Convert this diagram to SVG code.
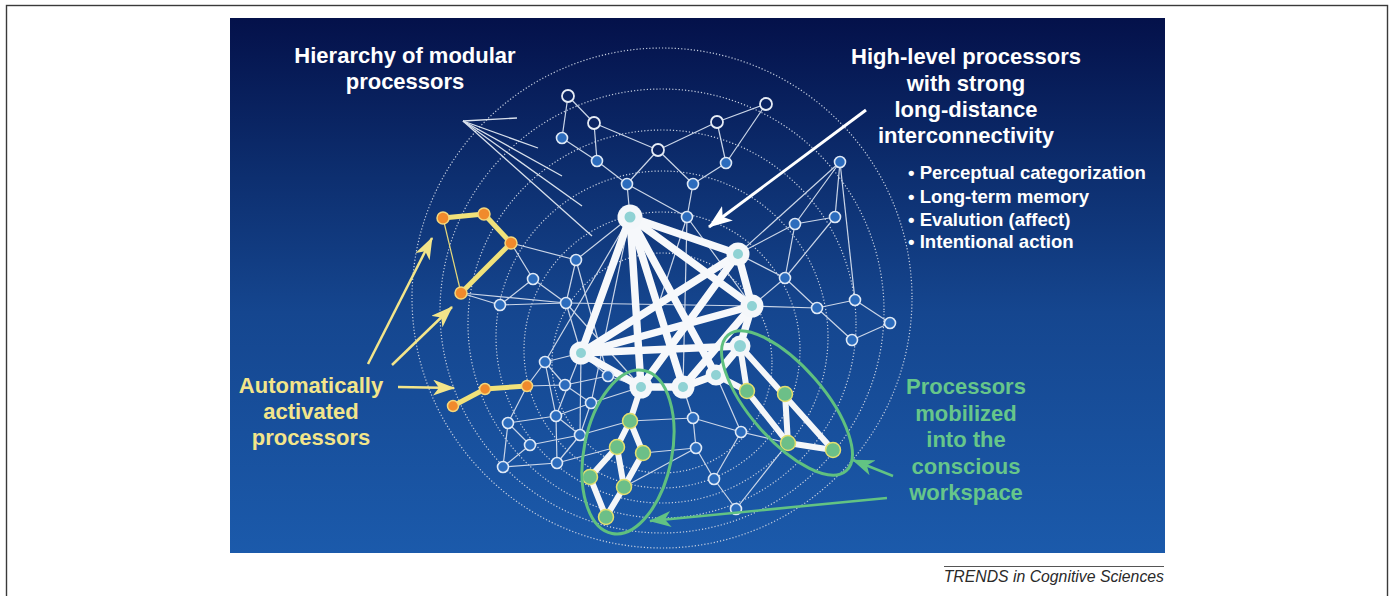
<svg xmlns="http://www.w3.org/2000/svg" width="1392" height="596" viewBox="0 0 1392 596">
<defs>
<linearGradient id="bg" x1="0" y1="0" x2="0" y2="1">
<stop offset="0" stop-color="#04114a"/>
<stop offset="0.3" stop-color="#0d2f70"/>
<stop offset="0.55" stop-color="#15468f"/>
<stop offset="1" stop-color="#1b5aab"/>
</linearGradient>
<marker id="mY" viewBox="0 0 22 16" refX="21" refY="8" markerWidth="22" markerHeight="16" markerUnits="userSpaceOnUse" orient="auto"><path d="M0,0 L22,8 L0,16 L6,8 Z" fill="#f3e58a"/></marker>
<marker id="mG" viewBox="0 0 22 16" refX="21" refY="8" markerWidth="22" markerHeight="16" markerUnits="userSpaceOnUse" orient="auto"><path d="M0,0 L22,8 L0,16 L6,8 Z" fill="#62c383"/></marker>
<marker id="mW" viewBox="0 0 24 18" refX="23" refY="9" markerWidth="24" markerHeight="18" markerUnits="userSpaceOnUse" orient="auto"><path d="M0,0 L24,9 L0,18 L6,9 Z" fill="#ffffff"/></marker>
<style>
.ring{fill:none;stroke:#c6cfe0;stroke-width:1.2;stroke-dasharray:1.2 2}
.thin{stroke:#cbd6e8;stroke-width:1.2}
.thick{stroke:#f6f8fb;stroke-width:7.5;stroke-linecap:round}
.gthick{stroke:#f4f6f8;stroke-width:6;stroke-linecap:round}
.ythick{stroke:#f1e27a;stroke-width:5}
.ythin{stroke:#e6d97a;stroke-width:1.2}
.blue{fill:#2c6cbd;stroke:#dfe9f6;stroke-width:1.6}
.hollow{fill:#0b2462;stroke:#e6ecf5;stroke-width:1.8}
.tealo{fill:#f4f7fa}
.teali{fill:#8fd2d4}
.green{fill:#6cbf88;stroke:#e3df6e;stroke-width:1.5}
.orange{fill:#f08a2c;stroke:#f4d67a;stroke-width:1.5}
.ell{fill:none;stroke:#5fc07f;stroke-width:3}
.wt{font-family:"Liberation Sans",Arial,Helvetica,sans-serif;font-weight:bold;fill:#ffffff}
.yt{font-family:"Liberation Sans",Arial,Helvetica,sans-serif;font-weight:bold;fill:#f3e58a;font-size:22px;text-anchor:middle}
.gt{font-family:"Liberation Sans",Arial,Helvetica,sans-serif;font-weight:bold;fill:#66c68a;font-size:22px;text-anchor:middle}
</style>
</defs>
<rect x="0" y="0" width="1392" height="596" fill="#ffffff"/>
<rect x="6.5" y="5.5" width="1381" height="620" fill="none" stroke="#3a3a3a" stroke-width="1.4"/>
<rect x="230" y="18" width="935" height="535" fill="url(#bg)"/>

<g id="rings">
<circle class="ring" cx="662" cy="298" r="250"/>
<circle class="ring" cx="662" cy="311" r="222"/>
<circle class="ring" cx="662" cy="324" r="194"/>
<circle class="ring" cx="662" cy="337" r="166"/>
<circle class="ring" cx="662" cy="350" r="138"/>
<circle class="ring" cx="662" cy="363" r="110"/>
</g>

<g id="connectors">
<g stroke="#d8e0ec" stroke-width="1.3">
<line x1="463" y1="121" x2="517" y2="118"/>
<line x1="463" y1="121" x2="538" y2="148"/>
<line x1="463" y1="121" x2="562" y2="176"/>
<line x1="463" y1="121" x2="582" y2="206"/>
<line x1="463" y1="121" x2="592" y2="236"/>
</g>
<g class="thin">
<line x1="568" y1="96" x2="594" y2="123"/>
<line x1="568" y1="96" x2="562" y2="138"/>
<line x1="594" y1="123" x2="597" y2="161"/>
<line x1="594" y1="123" x2="658" y2="150"/>
<line x1="562" y1="138" x2="597" y2="161"/>
<line x1="597" y1="161" x2="627" y2="184"/>
<line x1="658" y1="150" x2="627" y2="184"/>
<line x1="658" y1="150" x2="693" y2="184"/>
<line x1="658" y1="150" x2="717" y2="122"/>
<line x1="717" y1="122" x2="766" y2="104"/>
<line x1="717" y1="122" x2="726" y2="163"/>
<line x1="766" y1="104" x2="726" y2="163"/>
<line x1="726" y1="163" x2="693" y2="184"/>
<line x1="627" y1="184" x2="630" y2="217"/>
<line x1="627" y1="184" x2="687" y2="217"/>
<line x1="693" y1="184" x2="687" y2="217"/>
<line x1="687" y1="217" x2="683" y2="387"/>
<line x1="687" y1="217" x2="752" y2="306"/>
<line x1="687" y1="217" x2="660" y2="300"/>
<line x1="840" y1="162" x2="795" y2="224"/>
<line x1="840" y1="162" x2="835" y2="217"/>
<line x1="840" y1="162" x2="738" y2="254"/>
<line x1="840" y1="162" x2="855" y2="300"/>
<line x1="795" y1="224" x2="835" y2="217"/>
<line x1="795" y1="224" x2="738" y2="254"/>
<line x1="795" y1="224" x2="785" y2="278"/>
<line x1="835" y1="217" x2="785" y2="278"/>
<line x1="738" y1="254" x2="785" y2="278"/>
<line x1="785" y1="278" x2="752" y2="306"/>
<line x1="785" y1="278" x2="817" y2="308"/>
<line x1="752" y1="306" x2="817" y2="308"/>
<line x1="817" y1="308" x2="855" y2="300"/>
<line x1="855" y1="300" x2="890" y2="323"/>
<line x1="890" y1="323" x2="852" y2="340"/>
<line x1="817" y1="308" x2="852" y2="340"/>
<line x1="461" y1="293" x2="500" y2="305"/>
<line x1="461" y1="293" x2="566" y2="303"/>
<line x1="511" y1="243" x2="576" y2="260"/>
<line x1="511" y1="243" x2="533" y2="279"/>
<line x1="533" y1="279" x2="500" y2="305"/>
<line x1="533" y1="279" x2="566" y2="303"/>
<line x1="576" y1="260" x2="566" y2="303"/>
<line x1="500" y1="305" x2="566" y2="303"/>
<line x1="576" y1="260" x2="630" y2="217"/>
<line x1="576" y1="260" x2="608" y2="376"/>
<line x1="566" y1="303" x2="581" y2="353"/>
<line x1="566" y1="303" x2="752" y2="306"/>
<line x1="566" y1="303" x2="641" y2="387"/>
<line x1="545" y1="362" x2="581" y2="353"/>
<line x1="545" y1="362" x2="527" y2="386"/>
<line x1="545" y1="362" x2="565" y2="385"/>
<line x1="545" y1="362" x2="556" y2="416"/>
<line x1="527" y1="386" x2="565" y2="385"/>
<line x1="527" y1="386" x2="508" y2="423"/>
<line x1="565" y1="385" x2="608" y2="376"/>
<line x1="565" y1="385" x2="591" y2="403"/>
<line x1="608" y1="376" x2="641" y2="387"/>
<line x1="608" y1="376" x2="581" y2="353"/>
<line x1="591" y1="403" x2="556" y2="416"/>
<line x1="591" y1="403" x2="641" y2="387"/>
<line x1="591" y1="403" x2="580" y2="435"/>
<line x1="556" y1="416" x2="508" y2="423"/>
<line x1="556" y1="416" x2="580" y2="435"/>
<line x1="556" y1="416" x2="557" y2="463"/>
<line x1="508" y1="423" x2="530" y2="445"/>
<line x1="508" y1="423" x2="503" y2="467"/>
<line x1="580" y1="435" x2="530" y2="445"/>
<line x1="530" y1="445" x2="503" y2="467"/>
<line x1="503" y1="467" x2="557" y2="463"/>
<line x1="557" y1="463" x2="580" y2="435"/>
<line x1="557" y1="463" x2="617" y2="447"/>
<line x1="580" y1="435" x2="630" y2="421"/>
<line x1="581" y1="353" x2="556" y2="416"/>
<line x1="581" y1="353" x2="580" y2="435"/>
<line x1="630" y1="217" x2="545" y2="362"/>
<line x1="630" y1="217" x2="591" y2="403"/>
<line x1="693" y1="418" x2="741" y2="432"/>
<line x1="693" y1="418" x2="696" y2="448"/>
<line x1="696" y1="448" x2="714" y2="479"/>
<line x1="714" y1="479" x2="736" y2="509"/>
<line x1="741" y1="432" x2="714" y2="479"/>
<line x1="736" y1="509" x2="788" y2="443"/>
<line x1="741" y1="432" x2="788" y2="443"/>
<line x1="693" y1="418" x2="683" y2="387"/>
<line x1="741" y1="432" x2="716" y2="375"/>
<line x1="643" y1="453" x2="696" y2="448"/>
<line x1="624" y1="487" x2="696" y2="448"/>
<line x1="630" y1="421" x2="693" y2="418"/>
</g>
<g class="thick">
<line x1="630" y1="217" x2="738" y2="254"/>
<line x1="630" y1="217" x2="581" y2="353"/>
<line x1="630" y1="217" x2="641" y2="387"/>
<line x1="630" y1="217" x2="683" y2="387"/>
<line x1="630" y1="217" x2="716" y2="375"/>
<line x1="630" y1="217" x2="752" y2="306"/>
<line x1="738" y1="254" x2="752" y2="306"/>
<line x1="738" y1="254" x2="581" y2="353"/>
<line x1="738" y1="254" x2="641" y2="387"/>
<line x1="752" y1="306" x2="581" y2="353"/>
<line x1="752" y1="306" x2="740" y2="346"/>
<line x1="752" y1="306" x2="683" y2="387"/>
<line x1="581" y1="353" x2="641" y2="387"/>
<line x1="581" y1="353" x2="740" y2="346"/>
<line x1="641" y1="387" x2="683" y2="387"/>
<line x1="683" y1="387" x2="716" y2="375"/>
<line x1="716" y1="375" x2="740" y2="346"/>
</g>
<g class="gthick">
<line x1="641" y1="387" x2="630" y2="421"/>
<line x1="630" y1="421" x2="617" y2="447"/>
<line x1="630" y1="421" x2="643" y2="453"/>
<line x1="617" y1="447" x2="590" y2="477"/>
<line x1="617" y1="447" x2="624" y2="487"/>
<line x1="643" y1="453" x2="624" y2="487"/>
<line x1="590" y1="477" x2="606" y2="517"/>
<line x1="624" y1="487" x2="606" y2="517"/>
<line x1="740" y1="346" x2="747" y2="391"/>
<line x1="740" y1="346" x2="833" y2="450"/>
<line x1="716" y1="375" x2="747" y2="391"/>
<line x1="747" y1="391" x2="788" y2="443"/>
<line x1="785" y1="394" x2="788" y2="443"/>
<line x1="788" y1="443" x2="833" y2="450"/>
</g>
<line class="ythin" x1="443" y1="218" x2="461" y2="293"/>
<g class="ythick">
<line x1="443" y1="218" x2="484" y2="214"/>
<line x1="484" y1="214" x2="511" y2="243"/>
<line x1="511" y1="243" x2="461" y2="293"/>
<line x1="453" y1="406" x2="485" y2="389"/>
<line x1="485" y1="389" x2="527" y2="386"/>
</g>
</g>

<g id="hierarchy-nodes">
<g id="n1"><circle class="hollow" cx="568" cy="96" r="6"/></g>
<g id="n2"><circle class="hollow" cx="594" cy="123" r="6"/></g>
<g id="n3"><circle class="blue" cx="562" cy="138" r="5.5"/></g>
<g id="n4"><circle class="blue" cx="597" cy="161" r="5.5"/></g>
<g id="n5"><circle class="hollow" cx="658" cy="150" r="6"/></g>
<g id="n6"><circle class="blue" cx="627" cy="184" r="5.5"/></g>
<g id="n7"><circle class="blue" cx="693" cy="184" r="5.5"/></g>
<g id="n8"><circle class="hollow" cx="717" cy="122" r="6"/></g>
<g id="n9"><circle class="hollow" cx="766" cy="104" r="6"/></g>
<g id="n10"><circle class="blue" cx="726" cy="163" r="5.5"/></g>
<g id="n11"><circle class="blue" cx="687" cy="217" r="5.5"/></g>
<g id="n12"><circle class="blue" cx="840" cy="162" r="5.5"/></g>
<g id="n13"><circle class="blue" cx="795" cy="224" r="5.5"/></g>
<g id="n14"><circle class="blue" cx="835" cy="217" r="5.5"/></g>
<g id="n15"><circle class="blue" cx="785" cy="278" r="5.5"/></g>
<g id="n16"><circle class="blue" cx="817" cy="308" r="5.5"/></g>
<g id="n17"><circle class="blue" cx="855" cy="300" r="5.5"/></g>
<g id="n18"><circle class="blue" cx="890" cy="323" r="5.5"/></g>
<g id="n19"><circle class="blue" cx="852" cy="340" r="5.5"/></g>
<g id="n20"><circle class="blue" cx="576" cy="260" r="5.5"/></g>
<g id="n21"><circle class="blue" cx="533" cy="279" r="5.5"/></g>
<g id="n22"><circle class="blue" cx="500" cy="305" r="5.5"/></g>
<g id="n23"><circle class="blue" cx="566" cy="303" r="5.5"/></g>
<g id="n24"><circle class="blue" cx="545" cy="362" r="5.5"/></g>
<g id="n25"><circle class="blue" cx="565" cy="385" r="5.5"/></g>
<g id="n26"><circle class="blue" cx="608" cy="376" r="5.5"/></g>
<g id="n27"><circle class="blue" cx="591" cy="403" r="5.5"/></g>
<g id="n28"><circle class="blue" cx="556" cy="416" r="5.5"/></g>
<g id="n29"><circle class="blue" cx="508" cy="423" r="5.5"/></g>
<g id="n30"><circle class="blue" cx="580" cy="435" r="5.5"/></g>
<g id="n31"><circle class="blue" cx="530" cy="445" r="5.5"/></g>
<g id="n32"><circle class="blue" cx="503" cy="467" r="5.5"/></g>
<g id="n33"><circle class="blue" cx="557" cy="463" r="5.5"/></g>
<g id="n34"><circle class="blue" cx="693" cy="418" r="5.5"/></g>
<g id="n35"><circle class="blue" cx="741" cy="432" r="5.5"/></g>
<g id="n36"><circle class="blue" cx="696" cy="448" r="5.5"/></g>
<g id="n37"><circle class="blue" cx="714" cy="479" r="5.5"/></g>
<g id="n38"><circle class="blue" cx="736" cy="509" r="5.5"/></g>
</g>

<g id="high-level-nodes">
<g id="t1"><circle class="tealo" cx="630" cy="217" r="12.5"/><circle class="teali" cx="630" cy="217" r="5.5"/></g>
<g id="t2"><circle class="tealo" cx="738" cy="254" r="11.5"/><circle class="teali" cx="738" cy="254" r="5"/></g>
<g id="t3"><circle class="tealo" cx="752" cy="306" r="11.5"/><circle class="teali" cx="752" cy="306" r="5"/></g>
<g id="t4"><circle class="tealo" cx="740" cy="346" r="10.5"/><circle class="teali" cx="740" cy="346" r="6"/></g>
<g id="t5"><circle class="tealo" cx="716" cy="375" r="10.5"/><circle class="teali" cx="716" cy="375" r="5"/></g>
<g id="t6"><circle class="tealo" cx="683" cy="387" r="11.5"/><circle class="teali" cx="683" cy="387" r="5"/></g>
<g id="t7"><circle class="tealo" cx="641" cy="387" r="11.5"/><circle class="teali" cx="641" cy="387" r="5"/></g>
<g id="t8"><circle class="tealo" cx="581" cy="353" r="11.5"/><circle class="teali" cx="581" cy="353" r="5"/></g>
</g>

<g id="automatic-nodes">
<g id="o1"><circle class="orange" cx="443" cy="218" r="6"/></g>
<g id="o2"><circle class="orange" cx="484" cy="214" r="6"/></g>
<g id="o3"><circle class="orange" cx="511" cy="243" r="6"/></g>
<g id="o4"><circle class="orange" cx="461" cy="293" r="6"/></g>
<g id="o5"><circle class="orange" cx="453" cy="406" r="5.5"/></g>
<g id="o6"><circle class="orange" cx="485" cy="389" r="5.5"/></g>
<g id="o7"><circle class="orange" cx="527" cy="386" r="5.5"/></g>
</g>

<g id="workspace-nodes">
<g id="g1"><circle class="green" cx="630" cy="421" r="7.5"/></g>
<g id="g2"><circle class="green" cx="617" cy="447" r="7.5"/></g>
<g id="g3"><circle class="green" cx="643" cy="453" r="7.5"/></g>
<g id="g4"><circle class="green" cx="590" cy="477" r="7.5"/></g>
<g id="g5"><circle class="green" cx="624" cy="487" r="7.5"/></g>
<g id="g6"><circle class="green" cx="606" cy="517" r="7.5"/></g>
<g id="g7"><circle class="green" cx="747" cy="391" r="7.5"/></g>
<g id="g8"><circle class="green" cx="785" cy="394" r="7.5"/></g>
<g id="g9"><circle class="green" cx="788" cy="443" r="7.5"/></g>
<g id="g10"><circle class="green" cx="833" cy="450" r="7.5"/></g>
</g>

<g id="workspace-ellipses">
<ellipse class="ell" cx="628" cy="452" rx="44" ry="83" transform="rotate(11 628 452)"/>
<ellipse class="ell" cx="787" cy="403" rx="37" ry="90" transform="rotate(-41 787 403)"/>
</g>

<g id="arrows">
<line x1="866" y1="110" x2="709" y2="227" stroke="#ffffff" stroke-width="3" marker-end="url(#mW)"/>
<line x1="368" y1="364" x2="432" y2="238" stroke="#f3e58a" stroke-width="2.5" marker-end="url(#mY)"/>
<line x1="392" y1="365" x2="452" y2="307" stroke="#f3e58a" stroke-width="2.5" marker-end="url(#mY)"/>
<line x1="398" y1="387" x2="454" y2="388" stroke="#f3e58a" stroke-width="2.5" marker-end="url(#mY)"/>
<line x1="893" y1="476" x2="853" y2="460" stroke="#62c383" stroke-width="2.5" marker-end="url(#mG)"/>
<line x1="887" y1="498" x2="650" y2="521" stroke="#62c383" stroke-width="2.5" marker-end="url(#mG)"/>
</g>

<g id="labels">
<text class="wt" font-size="22" text-anchor="middle"><tspan x="405" y="63">Hierarchy of modular</tspan><tspan x="405" y="89">processors</tspan></text>
<text class="wt" font-size="22" text-anchor="middle"><tspan x="966" y="64">High-level processors</tspan><tspan x="966" y="91">with strong</tspan><tspan x="966" y="117">long-distance</tspan><tspan x="966" y="143">interconnectivity</tspan></text>
<text class="wt" font-size="18.6"><tspan x="908" y="179">• Perceptual categorization</tspan><tspan x="908" y="203">• Long-term memory</tspan><tspan x="908" y="226">• Evalution (affect)</tspan><tspan x="908" y="248">• Intentional action</tspan></text>
<text class="yt"><tspan x="311" y="393">Automatically</tspan><tspan x="311" y="419">activated</tspan><tspan x="311" y="445">processors</tspan></text>
<text class="gt"><tspan x="966" y="394">Processors</tspan><tspan x="966" y="421">mobilized</tspan><tspan x="966" y="447">into the</tspan><tspan x="966" y="474">conscious</tspan><tspan x="966" y="500">workspace</tspan></text>
</g>

<g id="caption">
<line x1="944" y1="566.5" x2="1164" y2="566.5" stroke="#555555" stroke-width="1"/>
<text x="1164" y="582" font-family="'Liberation Sans',Arial,sans-serif" font-style="italic" font-size="15.8" fill="#2a2a2a" text-anchor="end">TRENDS in Cognitive Sciences</text>
</g>
</svg>
